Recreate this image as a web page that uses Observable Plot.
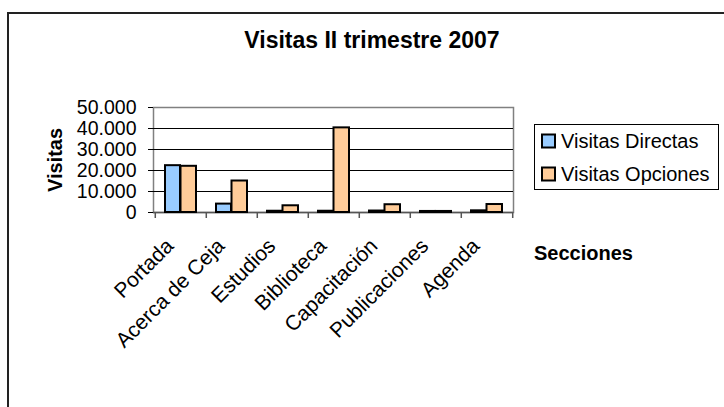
<!DOCTYPE html>
<html>
<head>
<meta charset="utf-8">
<script src="https://cdn.jsdelivr.net/npm/d3@7"></script>
<script src="https://cdn.jsdelivr.net/npm/@observablehq/plot@0.6"></script>
<style>
  html, body { margin: 0; padding: 0; background: #fff; }
  #wrap { position: relative; width: 724px; height: 407px; overflow: hidden; font-family: "Liberation Sans", Arial, sans-serif; }
  #border { position: absolute; left: 7px; top: 12px; width: 800px; height: 500px; border-left: 2px solid #222; border-top: 2px solid #222; box-sizing: border-box; }
  #overlay { position: absolute; left: 0; top: 0; }
  #chart { position: absolute; left: 0; top: 0; }
</style>
</head>
<body>
<div id="wrap">
  <div id="border"></div>
  <div id="chart"></div>
  <svg id="overlay" width="724" height="407"></svg>
</div>
<script>
const title = "Visitas II trimestre 2007";
const yLabel = "Visitas";
const xLabel = "Secciones";
const secciones = ["Portada", "Acerca de Ceja", "Estudios", "Biblioteca", "Capacitación", "Publicaciones", "Agenda"];
const series = ["Visitas Directas", "Visitas Opciones"];
const directas = [22300, 4000, 600, 600, 700, 500, 800];
const opciones = [22000, 15000, 3200, 40300, 3700, 500, 3800];
const yTicks = [0, 10000, 20000, 30000, 40000, 50000];
const colors = ["#99CCFF", "#FFCC99"];

const rowsD = secciones.map((s, i) => ({seccion: s, value: directas[i]}));
const rowsO = secciones.map((s, i) => ({seccion: s, value: opciones[i]}));

const W = 724, H = 407;
const mL = 153, mR = 211, mT = 107, mB = 195;
const bw = (W - mL - mR) / secciones.length;
const fmt = d => d === 0 ? "0" : d3.format(",")(d).replace(/,/g, ".");

const chart = Plot.plot({
  width: W, height: H,
  marginLeft: mL, marginRight: mR, marginTop: mT, marginBottom: mB,
  style: {fontFamily: "'Liberation Sans', Arial, sans-serif", fontSize: "19px", color: "#000", background: "transparent"},
  x: {domain: secciones, padding: 0, label: null},
  y: {domain: [0, 50000], label: null},
  marks: [
    Plot.frame({stroke: "#808080", strokeWidth: 1.5}),
    Plot.ruleY(yTicks.filter(d => d > 0 && d < 50000), {stroke: "#000", strokeWidth: 1.2}),
    Plot.ruleY([0], {stroke: "#555", strokeWidth: 1.5}),
    Plot.ruleX(secciones, {x: d => d, y1: 0, y2: 0, insetBottom: -6, dx: -bw / 2, stroke: "#555", strokeWidth: 1.5}),
    Plot.ruleX([secciones[secciones.length - 1]], {x: d => d, y1: 0, y2: 0, insetBottom: -6, dx: bw / 2, stroke: "#555", strokeWidth: 1.5}),
    Plot.barY(rowsD, {x: "seccion", y: "value", fill: colors[0], stroke: "#000", strokeWidth: 2, insetLeft: 10, insetRight: 26}),
    Plot.barY(rowsO, {x: "seccion", y: "value", fill: colors[1], stroke: "#000", strokeWidth: 2, insetLeft: 25.5, insetRight: 10}),
    Plot.axisY({ticks: yTicks, tickFormat: fmt, tickSize: 5, tickPadding: 12, label: null, fontSize: 19.5}),
    Plot.axisX({tickRotate: -45, tickSize: 0, tickPadding: 30, dx: -11, label: null, fontSize: 21})
  ]
});
document.getElementById("chart").appendChild(chart);

const ov = d3.select("#overlay").style("font-family", "'Liberation Sans', Arial, sans-serif");
ov.append("text").attr("x", 372).attr("y", 48).attr("text-anchor", "middle")
  .attr("font-weight", "bold").attr("font-size", 23).text(title);
ov.append("text").attr("transform", "translate(62,160) rotate(-90)").attr("text-anchor", "middle")
  .attr("font-weight", "bold").attr("font-size", 20).text(yLabel);
ov.append("text").attr("x", 534).attr("y", 260)
  .attr("font-weight", "bold").attr("font-size", 20).text(xLabel);

// legend
ov.append("rect").attr("x", 534.5).attr("y", 124.5).attr("width", 184).attr("height", 65)
  .attr("fill", "#fff").attr("stroke", "#000").attr("stroke-width", 1);
series.forEach((s, i) => {
  const cy = 141 + i * 33;
  ov.append("rect").attr("x", 542).attr("y", cy - 6.5).attr("width", 13).attr("height", 13)
    .attr("fill", colors[i]).attr("stroke", "#000").attr("stroke-width", 2);
  ov.append("text").attr("x", 561).attr("y", cy + 7).attr("font-size", 20).text(s);
});
</script>
</body>
</html>
